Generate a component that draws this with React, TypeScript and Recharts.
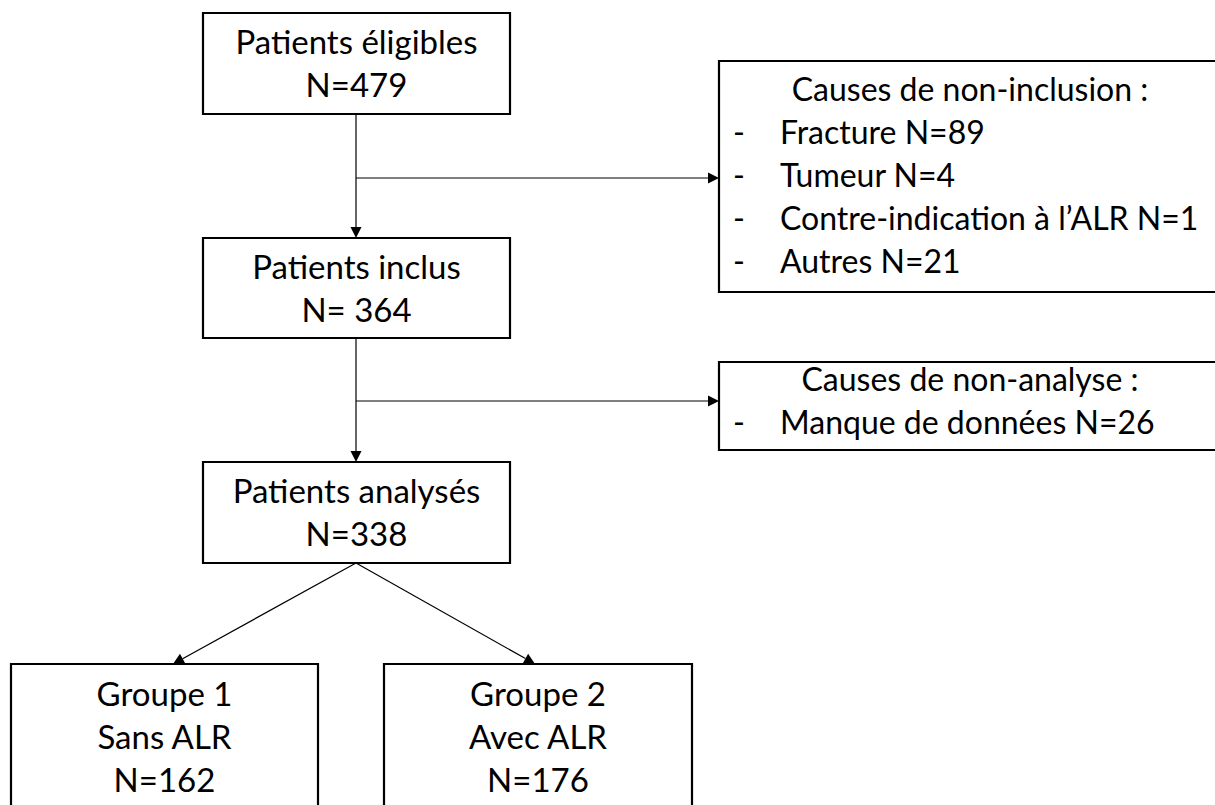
import React from "react";
import { ScatterChart, Scatter, XAxis, YAxis, ReferenceArea, ReferenceLine } from "recharts";

// flux des patients
const mainSteps = ["Patients éligibles", "Patients inclus", "Patients analysés"];
const mainCounts = ["N=479", "N= 364", "N=338"];

const exclusionTitles = ["Causes de non-inclusion :", "Causes de non-analyse :"];
const exclusionReasons = [
  ["Fracture N=89", "Tumeur N=4", "Contre-indication à l’ALR N=1", "Autres N=21"],
  ["Manque de données N=26"],
];

const groupNames = ["Groupe 1", "Groupe 2"];
const groupLabels = ["Sans ALR", "Avec ALR"];
const groupCounts = ["N=162", "N=176"];

// mise en page (coordonnées du schéma)
const W = 1215;
const H = 805;
const mainBoxes = [
  { x1: 203, x2: 510, y1: 13, y2: 114 },
  { x1: 203, x2: 510, y1: 238, y2: 338 },
  { x1: 203, x2: 510, y1: 462, y2: 563 },
];
const exclusionBoxes = [
  { x1: 719, x2: 1226, y1: 61, y2: 292, top: 101 },
  { x1: 719, x2: 1226, y1: 362, y2: 450, top: 391 },
];
const groupBoxes = [
  { x1: 11, x2: 318, y1: 664, y2: 815 },
  { x1: 384, x2: 692, y1: 664, y2: 815 },
];
const links = [
  [{ x: 356, y: 114 }, { x: 356, y: 238 }],
  [{ x: 356, y: 178 }, { x: 719, y: 178 }],
  [{ x: 356, y: 338 }, { x: 356, y: 462 }],
  [{ x: 356, y: 401 }, { x: 719, y: 401 }],
  [{ x: 356, y: 563 }, { x: 173, y: 664 }],
  [{ x: 356, y: 563 }, { x: 535, y: 664 }],
];

const LINE_GAP = 43;
const FONT = "Lato, 'Open Sans', sans-serif";

type Label = { x: number; y: number; text: string; anchor: string; size: number };
const labels: Label[] = [];
mainBoxes.forEach((b, i) => {
  const cx = (b.x1 + b.x2) / 2;
  labels.push({ x: cx, y: b.y1 + 41, text: mainSteps[i], anchor: "middle", size: 33 });
  labels.push({ x: cx, y: b.y1 + 41 + LINE_GAP, text: mainCounts[i], anchor: "middle", size: 33 });
});
exclusionBoxes.forEach((b, i) => {
  labels.push({ x: 970, y: b.top, text: exclusionTitles[i], anchor: "middle", size: 32 });
  exclusionReasons[i].forEach((r, j) => {
    const y = b.top + LINE_GAP * (j + 1);
    labels.push({ x: 733, y, text: "-", anchor: "start", size: 32 });
    labels.push({ x: 780, y, text: r, anchor: "start", size: 32 });
  });
});
groupBoxes.forEach((b, i) => {
  const cx = (b.x1 + b.x2) / 2;
  labels.push({ x: cx, y: 706, text: groupNames[i], anchor: "middle", size: 33 });
  labels.push({ x: cx, y: 706 + LINE_GAP, text: groupLabels[i], anchor: "middle", size: 33 });
  labels.push({ x: cx, y: 706 + LINE_GAP * 2, text: groupCounts[i], anchor: "middle", size: 33 });
});

const TextMark = (props: any) => {
  const { cx, cy, payload } = props;
  return (
    <text x={cx} y={cy} textAnchor={payload.anchor} fontFamily={FONT} fontSize={payload.size} fill="#000">
      {payload.text}
    </text>
  );
};

const Arrow = (props: any) => {
  const { x1, y1, x2, y2 } = props;
  const dx = x2 - x1;
  const dy = y2 - y1;
  const len = Math.sqrt(dx * dx + dy * dy) || 1;
  const ux = dx / len;
  const uy = dy / len;
  const hl = 11;
  const hw = 5.5;
  const bx = x2 - ux * hl;
  const by = y2 - uy * hl;
  const pts = `${x2},${y2} ${bx - uy * hw},${by + ux * hw} ${bx + uy * hw},${by - ux * hw}`;
  return (
    <g>
      <line x1={x1} y1={y1} x2={bx} y2={by} stroke="#000" strokeWidth={1.2} />
      <polygon points={pts} fill="#000" />
    </g>
  );
};

const boxStyle = { fill: "none", stroke: "#000", strokeWidth: 2.2 };

export default function App() {
  return (
    <div style={{ position: "absolute", left: 0, top: 0, background: "#fff" }}>
      <ScatterChart width={W} height={H} margin={{ top: 0, right: 0, bottom: 0, left: 0 }}>
        <XAxis type="number" dataKey="x" domain={[0, W]} hide allowDataOverflow />
        <YAxis type="number" dataKey="y" domain={[0, H]} reversed hide allowDataOverflow />
        {[...mainBoxes, ...exclusionBoxes, ...groupBoxes].map((b, i) => (
          <ReferenceArea
            key={`box-${i}`}
            x1={b.x1}
            x2={b.x2}
            y1={b.y1}
            y2={b.y2}
            ifOverflow="visible"
            {...boxStyle}
            fillOpacity={0}
          />
        ))}
        {links.map((seg, i) => (
          <ReferenceLine key={`link-${i}`} segment={seg} shape={Arrow} ifOverflow="visible" />
        ))}
        <Scatter data={labels} shape={TextMark} isAnimationActive={false} />
      </ScatterChart>
    </div>
  );
}
